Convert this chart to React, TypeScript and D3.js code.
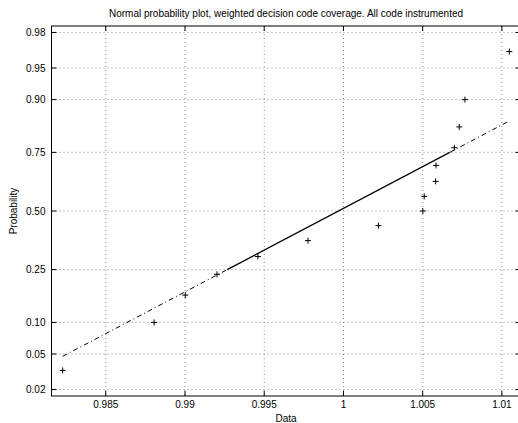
import React from "react";
import * as d3 from "d3";

const TITLE = "Normal probability plot, weighted decision code coverage. All code instrumented";
const X_LABEL = "Data";
const Y_LABEL = "Probability";

const dataValues = [
  0.98228, 0.98805, 0.99002, 0.99202, 0.9946, 0.99776, 1.00221, 1.00501,
  1.0051, 1.00582, 1.00584, 1.007, 1.00731, 1.00767, 1.01047,
];

const xTicks = [0.985, 0.99, 0.995, 1, 1.005, 1.01];
const xTickLabels = ["0.985", "0.99", "0.995", "1", "1.005", "1.01"];
const yTickProbs = [0.02, 0.05, 0.1, 0.25, 0.5, 0.75, 0.9, 0.95, 0.98];
const yTickLabels = ["0.02", "0.05", "0.10", "0.25", "0.50", "0.75", "0.90", "0.95", "0.98"];

// inverse normal CDF (Acklam)
function norminv(p: number): number {
  const a = [-3.969683028665376e1, 2.209460984245205e2, -2.759285104469687e2, 1.38357751867269e2, -3.066479806614716e1, 2.506628277459239];
  const b = [-5.447609879822406e1, 1.615858368580409e2, -1.556989798598866e2, 6.680131188771972e1, -1.328068155288572e1];
  const c = [-7.784894002430293e-3, -3.223964580411365e-1, -2.400758277161838, -2.549732539343734, 4.374664141464968, 2.938163982698783];
  const d = [7.784695709041462e-3, 3.224671290700398e-1, 2.445134137142996, 3.754408661907416];
  const pl = 0.02425;
  if (p < pl) {
    const q = Math.sqrt(-2 * Math.log(p));
    return (((((c[0] * q + c[1]) * q + c[2]) * q + c[3]) * q + c[4]) * q + c[5]) / ((((d[0] * q + d[1]) * q + d[2]) * q + d[3]) * q + 1);
  }
  if (p > 1 - pl) {
    const q = Math.sqrt(-2 * Math.log(1 - p));
    return -(((((c[0] * q + c[1]) * q + c[2]) * q + c[3]) * q + c[4]) * q + c[5]) / ((((d[0] * q + d[1]) * q + d[2]) * q + d[3]) * q + 1);
  }
  const q = p - 0.5;
  const r = q * q;
  return ((((((a[0] * r + a[1]) * r + a[2]) * r + a[3]) * r + a[4]) * r + a[5]) * q) / (((((b[0] * r + b[1]) * r + b[2]) * r + b[3]) * r + b[4]) * r + 1);
}

// MATLAB-style percentile
function prctile(sorted: number[], pct: number): number {
  const n = sorted.length;
  const pos = (pct / 100) * n + 0.5; // 1-based
  if (pos <= 1) return sorted[0];
  if (pos >= n) return sorted[n - 1];
  const i = Math.floor(pos);
  const f = pos - i;
  return sorted[i - 1] + f * (sorted[i] - sorted[i - 1]);
}

const W = 518;
const H = 423;
const M = { left: 51.5, right: 520.5, top: 26, bottom: 396 };
const FONT = "'Liberation Sans', Arial, Helvetica, sans-serif";

export default function App() {
  const n = dataValues.length;
  const probs = dataValues.map((_, i) => (i + 1 - 0.5) / n);
  const zs = probs.map(norminv);
  const xmin = d3.min(dataValues)!;
  const xmax = d3.max(dataValues)!;
  const range = xmax - xmin;
  const x = d3.scaleLinear().domain([xmin - 0.025 * range, xmax + 0.025 * range]).range([M.left, M.right]);
  const zlim = -norminv(0.25 / n);
  const y = d3.scaleLinear().domain([-zlim, zlim]).range([M.bottom, M.top]);

  const q1 = prctile(dataValues, 25);
  const q3 = prctile(dataValues, 75);
  const z1 = norminv(0.25);
  const z3 = norminv(0.75);
  const slope = (z3 - z1) / (q3 - q1);
  const zAt = (v: number) => z1 + slope * (v - q1);
  const line = d3.line<number>().x((v) => x(v)).y((v) => y(zAt(v)));

  const tickLen = 5;
  const grid = { stroke: "#6a6a6a", strokeWidth: 0.8, strokeDasharray: "1,3" };

  return (
    <svg width={W} height={H} style={{ position: "fixed", left: 0, top: 0, background: "#fff" }} fontFamily={FONT}>
      <rect x={0} y={0} width={W} height={H} fill="#fff" />
      {/* grid */}
      {xTicks.map((t) => (
        <line key={"gx" + t} x1={x(t)} x2={x(t)} y1={M.top} y2={M.bottom} {...grid} />
      ))}
      {yTickProbs.map((p) => (
        <line key={"gy" + p} x1={M.left} x2={M.right} y1={y(norminv(p))} y2={y(norminv(p))} {...grid} />
      ))}
      {/* reference line */}
      <path d={line([xmin, q1]) || ""} fill="none" stroke="#000" strokeWidth={1} strokeDasharray="5,3,1,3" />
      <path d={line([q3, xmax]) || ""} fill="none" stroke="#000" strokeWidth={1} strokeDasharray="5,3,1,3" />
      <path d={line([q1, q3]) || ""} fill="none" stroke="#000" strokeWidth={1.2} />
      {/* data markers */}
      {dataValues.map((v, i) => {
        const cx = x(v);
        const cy = y(zs[i]);
        return (
          <path key={"p" + i} d={`M${cx - 3},${cy}H${cx + 3}M${cx},${cy - 3}V${cy + 3}`} stroke="#000" strokeWidth={1} fill="none" />
        );
      })}
      {/* frame */}
      <rect x={M.left} y={M.top} width={M.right - M.left} height={M.bottom - M.top} fill="none" stroke="#000" strokeWidth={1} />
      {/* ticks */}
      {xTicks.map((t, i) => (
        <g key={"tx" + t}>
          <line x1={x(t)} x2={x(t)} y1={M.bottom} y2={M.bottom - tickLen} stroke="#000" />
          <line x1={x(t)} x2={x(t)} y1={M.top} y2={M.top + tickLen} stroke="#000" />
          <text x={x(t)} y={M.bottom + 11.5} fontSize={10} textAnchor="middle" fill="#000">
            {xTickLabels[i]}
          </text>
        </g>
      ))}
      {yTickProbs.map((p, i) => {
        const yy = y(norminv(p));
        return (
          <g key={"ty" + p}>
            <line x1={M.left} x2={M.left + tickLen} y1={yy} y2={yy} stroke="#000" />
            <line x1={M.right} x2={M.right - tickLen} y1={yy} y2={yy} stroke="#000" />
            <text x={M.left - 6} y={yy + 3.6} fontSize={10} textAnchor="end" fill="#000">
              {yTickLabels[i]}
            </text>
          </g>
        );
      })}
      {/* labels */}
      <text x={(M.left + M.right) / 2} y={17} fontSize={10} textAnchor="middle" fill="#000">
        {TITLE}
      </text>
      <text x={(M.left + M.right) / 2} y={421.5} fontSize={10} textAnchor="middle" fill="#000">
        {X_LABEL}
      </text>
      <text transform={`translate(17.3,${(M.top + M.bottom) / 2}) rotate(-90)`} fontSize={10} textAnchor="middle" fill="#000">
        {Y_LABEL}
      </text>
    </svg>
  );
}
